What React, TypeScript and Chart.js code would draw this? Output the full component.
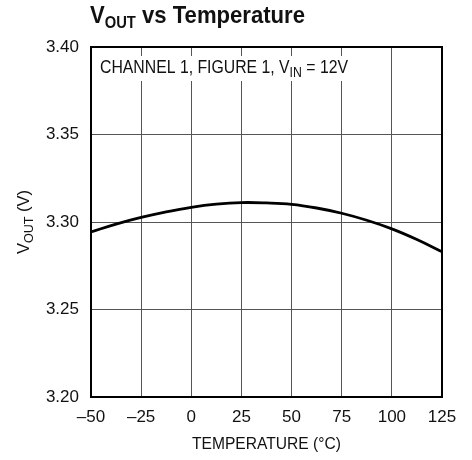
import React, { useEffect, useRef } from 'react';
import { Chart, registerables } from 'chart.js';

Chart.register(...registerables);

// Data
const temperatures = [-50, -37.5, -25, -12.5, 0, 12.5, 25, 37.5, 50, 62.5, 75, 87.5, 100, 112.5, 125];
const vout = [3.2943, 3.2988, 3.3026, 3.3058, 3.3084, 3.3102, 3.3111, 3.3109, 3.3101, 3.308, 3.305, 3.301, 3.2961, 3.29, 3.283];
const xTickValues = [-50, -25, 0, 25, 50, 75, 100, 125];
const yTickValues = [3.2, 3.25, 3.3, 3.35, 3.4];

const FONT = '"Liberation Sans", Arial, Helvetica, sans-serif';
const TEXT = '#111';

type Run = { t: string; size: number; dy: number };

function runsWidth(ctx: CanvasRenderingContext2D, runs: Run[], weight: string) {
  let w = 0;
  for (const r of runs) {
    ctx.font = `${weight} ${r.size}px ${FONT}`;
    w += ctx.measureText(r.t).width;
  }
  return w;
}

function drawRuns(ctx: CanvasRenderingContext2D, runs: Run[], x: number, y: number, weight: string) {
  let cx = x;
  ctx.textBaseline = 'alphabetic';
  ctx.textAlign = 'left';
  for (const r of runs) {
    ctx.font = `${weight} ${r.size}px ${FONT}`;
    ctx.fillText(r.t, cx, y + r.dy);
    cx += ctx.measureText(r.t).width;
  }
}

// draws runs horizontally compressed so that they span targetWidth (condensed look)
function drawRunsFit(
  ctx: CanvasRenderingContext2D,
  runs: Run[],
  x: number,
  y: number,
  weight: string,
  targetWidth: number
) {
  const w = runsWidth(ctx, runs, weight);
  const sx = Math.min(1, targetWidth / w);
  ctx.save();
  ctx.translate(x, y);
  ctx.scale(sx, 1);
  drawRuns(ctx, runs, 0, 0, weight);
  ctx.restore();
}

const textPlugin = {
  id: 'customTexts',
  afterDatasetsDraw(chart: any) {
    const ctx: CanvasRenderingContext2D = chart.ctx;
    const a = chart.chartArea;
    ctx.save();
    ctx.fillStyle = TEXT;

    // Chart title
    drawRunsFit(
      ctx,
      [
        { t: 'V', size: 24, dy: 0 },
        { t: 'OUT', size: 16, dy: 5.6 },
        { t: ' vs Temperature', size: 24, dy: 0 },
      ],
      90,
      22.7,
      'bold',
      215
    );

    // Annotation inside plot with white background
    const ann: Run[] = [
      { t: 'CHANNEL 1, FIGURE 1, V', size: 18, dy: 0 },
      { t: 'IN', size: 14, dy: 4 },
      { t: ' = 12V', size: 18, dy: 0 },
    ];
    ctx.fillStyle = '#fff';
    ctx.fillRect(a.left + 5, a.top + 9, 258, 25);
    ctx.fillStyle = TEXT;
    drawRunsFit(ctx, ann, a.left + 9, a.top + 26.3, 'normal', 248);

    // Y axis title (rotated)
    const yRuns: Run[] = [
      { t: 'V', size: 17, dy: 0 },
      { t: 'OUT', size: 13, dy: 4.5 },
      { t: ' (V)', size: 17, dy: 0 },
    ];
    const yTarget = 64;
    ctx.save();
    ctx.translate(28.5, (a.top + a.bottom) / 2);
    ctx.rotate(-Math.PI / 2);
    drawRunsFit(ctx, yRuns, -yTarget / 2, 0, 'normal', yTarget);
    ctx.restore();

    // X axis title
    const xTarget = 149;
    drawRunsFit(
      ctx,
      [{ t: 'TEMPERATURE (\u00B0C)', size: 17, dy: 0 }],
      (a.left + a.right) / 2 - xTarget / 2,
      448.5,
      'normal',
      xTarget
    );

    ctx.restore();
  },
  afterDraw(chart: any) {
    const ctx: CanvasRenderingContext2D = chart.ctx;
    const a = chart.chartArea;
    ctx.save();
    ctx.strokeStyle = '#000';
    ctx.lineWidth = 2;
    ctx.strokeRect(a.left, a.top, a.right - a.left, a.bottom - a.top);
    ctx.restore();
  },
};

export default function App() {
  const canvasRef = useRef<HTMLCanvasElement | null>(null);

  useEffect(() => {
    if (!canvasRef.current) return;
    const chart = new Chart(canvasRef.current, {
      type: 'line',
      data: {
        datasets: [
          {
            label: 'VOUT',
            data: temperatures.map((t, i) => ({ x: t, y: vout[i] })),
            borderColor: '#000',
            borderWidth: 2.8,
            pointRadius: 0,
            tension: 0.4,
            fill: false,
          },
        ],
      },
      options: {
        animation: false,
        responsive: true,
        maintainAspectRatio: false,
        layout: { padding: { top: 47, right: 30, left: 0, bottom: 0 } },
        plugins: {
          legend: { display: false },
          tooltip: { enabled: false },
          title: { display: false },
        },
        scales: {
          x: {
            type: 'linear',
            min: -50,
            max: 125,
            afterBuildTicks: (s: any) => {
              s.ticks = xTickValues.map((v) => ({ value: v }));
            },
            afterFit: (s: any) => {
              s.height = 63;
            },
            ticks: {
              autoSkip: false,
              maxRotation: 0,
              padding: 10,
              color: TEXT,
              font: { family: FONT, size: 17 },
              callback: (v: any) => String(v).replace('-', '\u2013'),
            },
            grid: { color: '#555', lineWidth: 1, drawTicks: false },
            border: { display: false },
          },
          y: {
            type: 'linear',
            min: 3.2,
            max: 3.4,
            afterBuildTicks: (s: any) => {
              s.ticks = yTickValues.map((v) => ({ value: v }));
            },
            afterFit: (s: any) => {
              s.width = 91;
            },
            ticks: {
              padding: 12,
              color: TEXT,
              font: { family: FONT, size: 17 },
              callback: (v: any) => Number(v).toFixed(2),
            },
            grid: { color: '#555', lineWidth: 1, drawTicks: false },
            border: { display: false },
          },
        },
      },
      plugins: [textPlugin],
    });
    return () => chart.destroy();
  }, []);

  return (
    <div style={{ position: 'absolute', left: 0, top: 0, width: 472, height: 460, background: '#fff' }}>
      <canvas ref={canvasRef} />
    </div>
  );
}
